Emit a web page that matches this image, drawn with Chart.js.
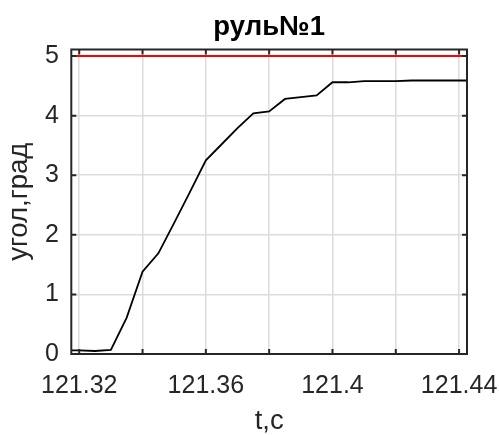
<!DOCTYPE html>
<html>
<head>
<meta charset="utf-8">
<script src="https://cdn.jsdelivr.net/npm/chart.js@4"></script>
<style>
  html, body { margin: 0; padding: 0; background: #fff; }
  #wrap { width: 499px; height: 435px; }
</style>
</head>
<body>
<div id="wrap"><canvas id="chartRul"></canvas></div>
<script>
// данные: время, угол руля
const vremya = [121.315, 121.320, 121.325, 121.330, 121.335, 121.340, 121.345, 121.350, 121.355,
  121.360, 121.365, 121.370, 121.375, 121.380, 121.385, 121.390, 121.395, 121.400, 121.405,
  121.410, 121.415, 121.420, 121.425, 121.430, 121.435, 121.440, 121.445];
const ugol = [0.06, 0.06, 0.05, 0.07, 0.61, 1.38, 1.69, 2.20, 2.72,
  3.25, 3.52, 3.79, 4.04, 4.07, 4.28, 4.31, 4.34, 4.56, 4.56,
  4.58, 4.58, 4.58, 4.59, 4.59, 4.59, 4.59, 4.59];

// ограничение (красная линия)
const predel = 5;
const predelVremya = [121.3175, 121.4425];

// тики
const xTicks = [121.32, 121.34, 121.36, 121.38, 121.40, 121.42, 121.44];
const xLabels = ["121.32", "", "121.36", "", "121.4", "", "121.44"];
const yTicks = [0, 1, 2, 3, 4, 5];

const tekst = "#262626";
const shrift = "'Liberation Sans', Arial, sans-serif";

// рамка и внутренние тики как в matlab
const ramka = {
  id: "ramka",
  afterDraw(chart) {
    const { ctx, chartArea: a, scales } = chart;
    ctx.save();
    ctx.strokeStyle = tekst;
    ctx.lineWidth = 2;
    ctx.beginPath();
    xTicks.forEach(v => {
      const px = scales.x.getPixelForValue(v);
      ctx.moveTo(px, a.bottom); ctx.lineTo(px, a.bottom - 5);
      ctx.moveTo(px, a.top); ctx.lineTo(px, a.top + 5);
    });
    yTicks.forEach(v => {
      const py = scales.y.getPixelForValue(v);
      ctx.moveTo(a.left, py); ctx.lineTo(a.left + 5, py);
      ctx.moveTo(a.right, py); ctx.lineTo(a.right - 5, py);
    });
    ctx.stroke();
    ctx.strokeRect(a.left, a.top, a.right - a.left, a.bottom - a.top);
    ctx.restore();
  }
};

new Chart(document.getElementById("chartRul"), {
  type: "line",
  data: {
    datasets: [
      {
        label: "предел",
        data: predelVremya.map(t => ({ x: t, y: predel })),
        borderColor: "#ff0000",
        borderWidth: 2,
        pointRadius: 0
      },
      {
        label: "руль",
        data: vremya.map((t, i) => ({ x: t, y: ugol[i] })),
        borderColor: "#000000",
        borderWidth: 1.8,
        pointRadius: 0,
        tension: 0
      }
    ]
  },
  options: {
    responsive: true,
    maintainAspectRatio: false,
    animation: false,
    layout: { padding: { left: 2, right: 32, top: 10, bottom: 0 } },
    plugins: {
      legend: { display: false },
      tooltip: { enabled: false },
      title: {
        display: true,
        text: "руль№1",
        fullSize: false,
        color: "#000",
        font: { family: shrift, size: 27.5, weight: "bold", lineHeight: 1 },
        padding: { top: 3.5, bottom: 8.5 }
      }
    },
    scales: {
      x: {
        type: "linear",
        min: 121.3175,
        max: 121.4425,
        afterBuildTicks: s => { s.ticks = xTicks.map(v => ({ value: v })); },
        ticks: {
          autoSkip: false,
          maxRotation: 0,
          padding: 0,
          color: tekst,
          font: { family: shrift, size: 25 },
          callback: (v, i) => xLabels[i]
        },
        grid: { color: "#dcdcdc", lineWidth: 1.5, drawTicks: true, tickLength: 17, tickColor: "rgba(0,0,0,0)" },
        border: { display: false },
        title: {
          display: true,
          text: "t,c",
          color: tekst,
          font: { family: shrift, size: 27.5, lineHeight: 1 },
          padding: { top: 6.5, bottom: 0 }
        }
      },
      y: {
        min: 0,
        max: 5.11,
        afterBuildTicks: s => { s.ticks = yTicks.map(v => ({ value: v })); },
        ticks: {
          padding: 12.3,
          color: tekst,
          font: { family: shrift, size: 25 }
        },
        grid: { color: "#dcdcdc", lineWidth: 1.5, drawTicks: false },
        border: { display: false },
        title: {
          display: true,
          text: "угол,град",
          color: tekst,
          font: { family: shrift, size: 27.5, lineHeight: 1 },
          padding: { top: 3.3, bottom: 0 }
        }
      }
    }
  },
  plugins: [ramka]
});
</script>
</body>
</html>
